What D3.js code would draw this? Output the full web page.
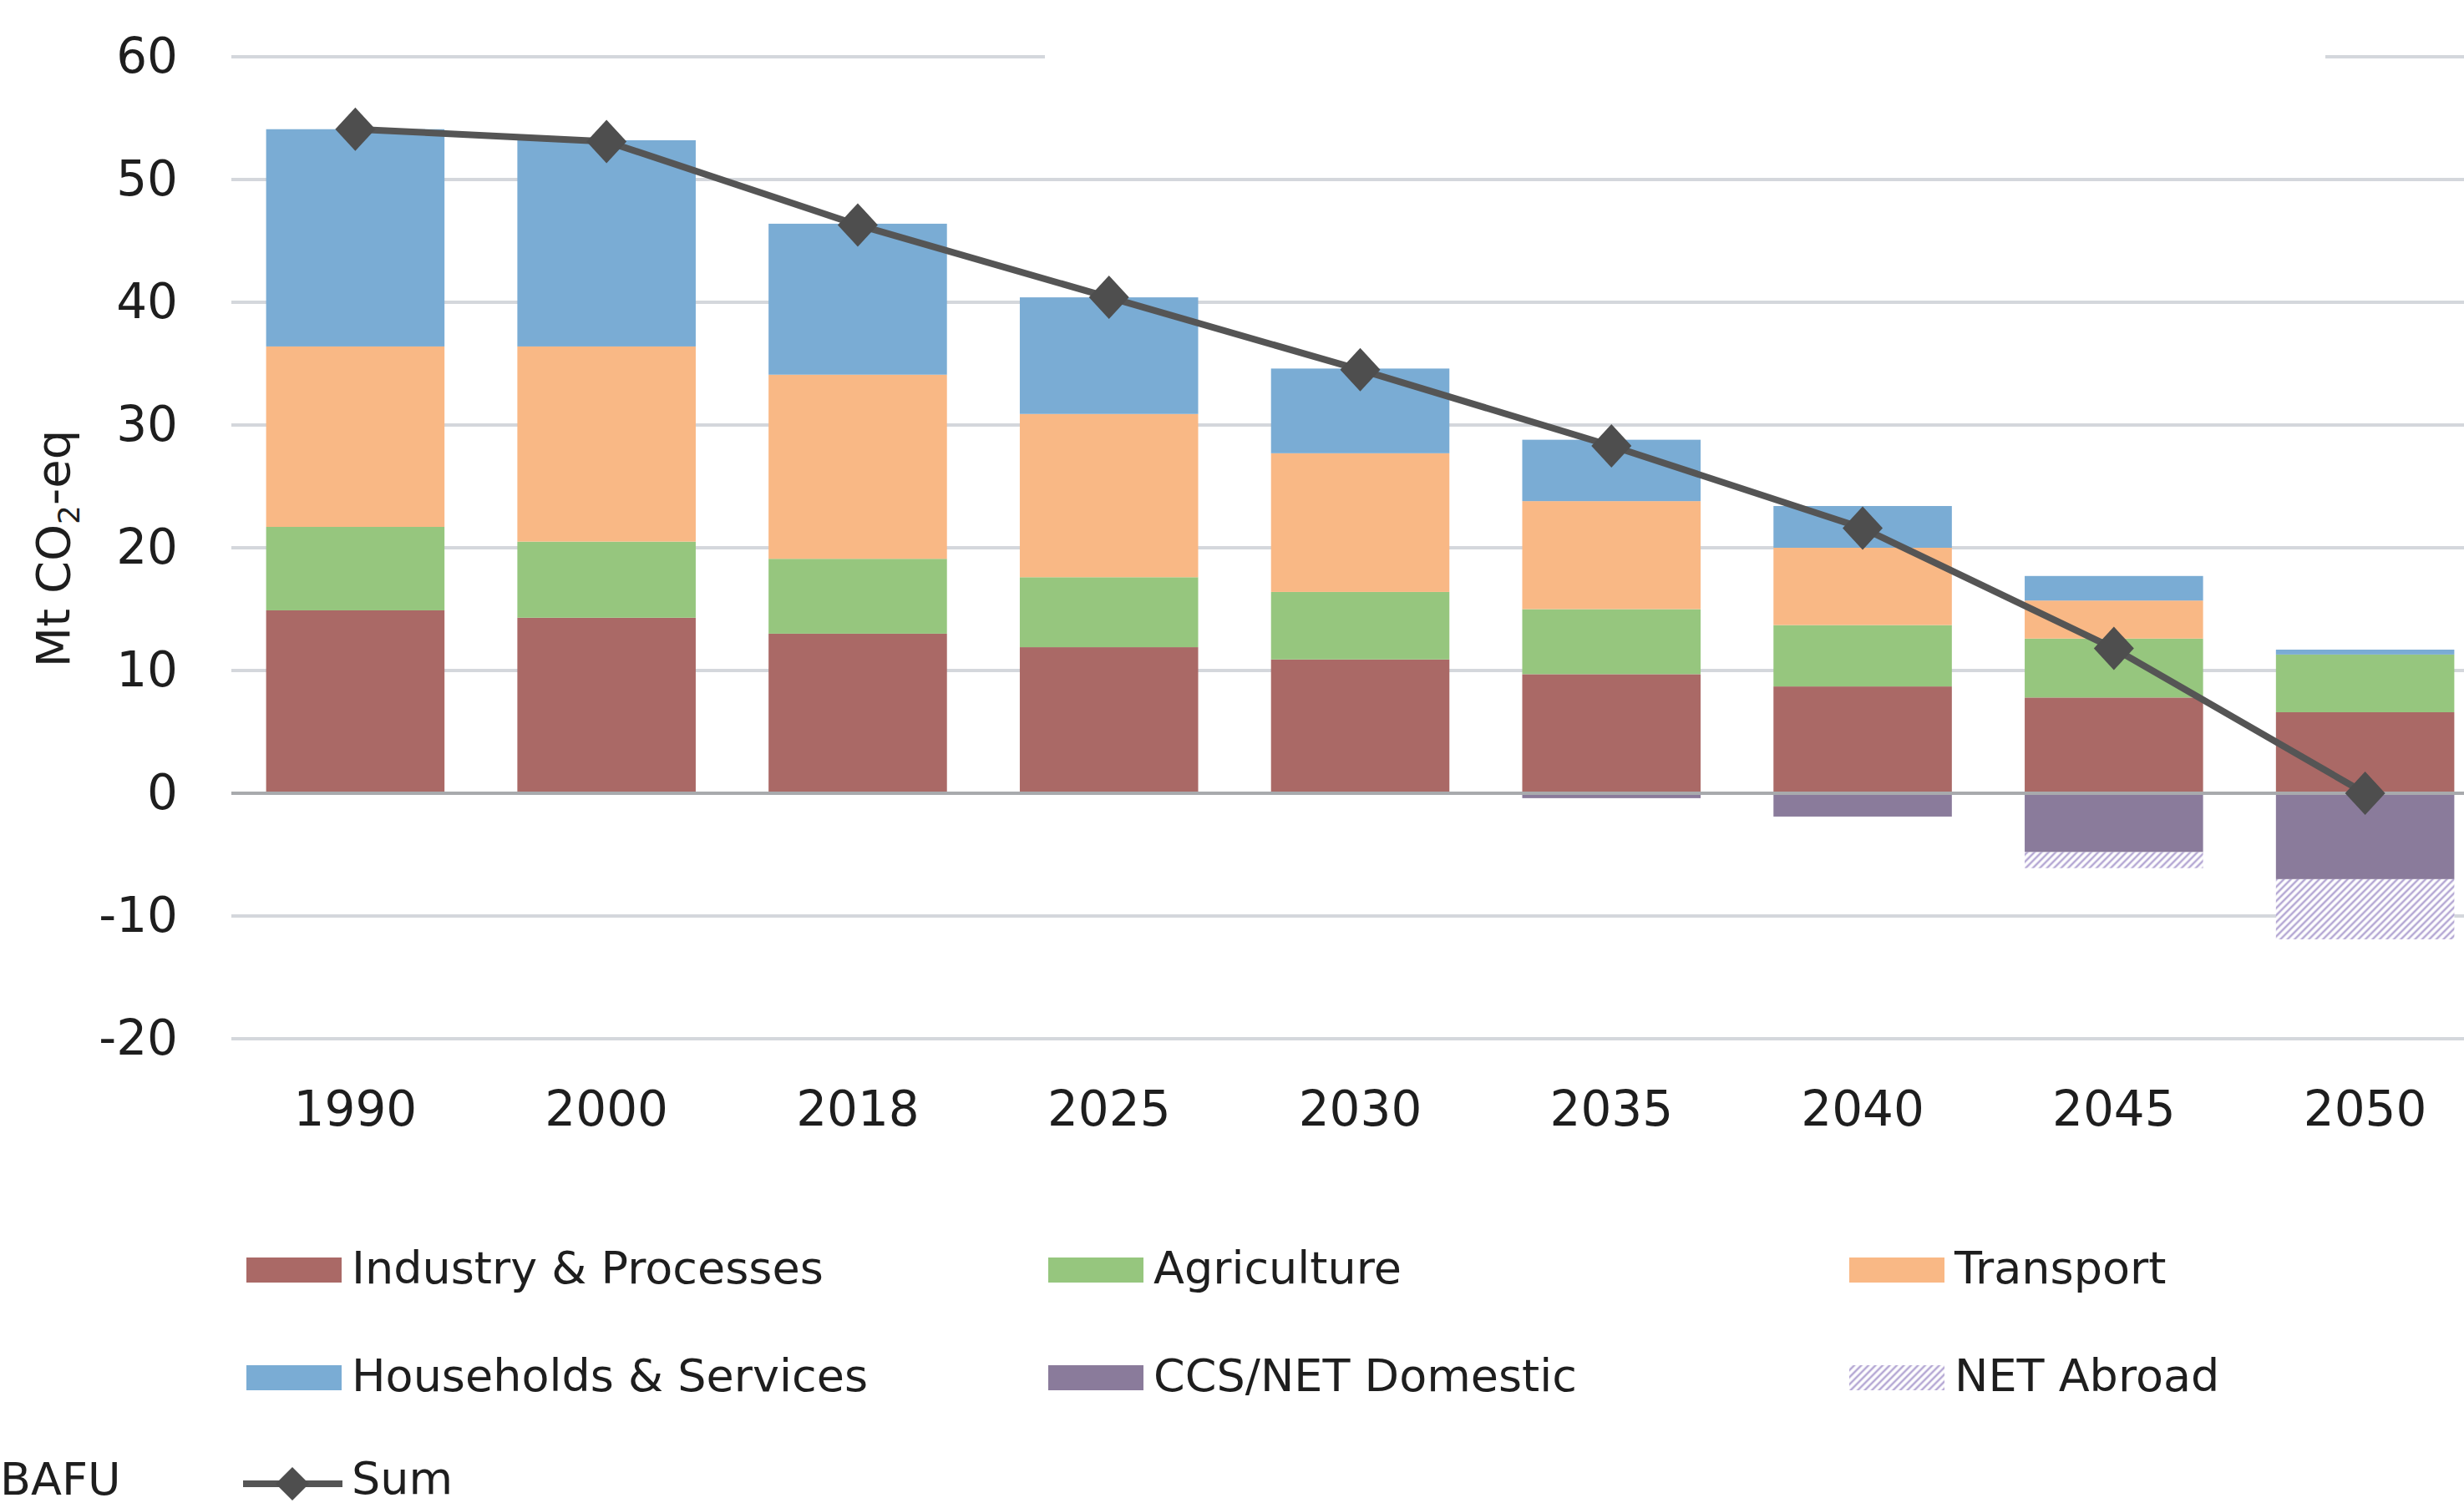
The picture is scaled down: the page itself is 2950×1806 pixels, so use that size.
<!DOCTYPE html>
<html>
<head>
<meta charset="utf-8">
<script src="https://cdn.jsdelivr.net/npm/d3@7"></script>
<style>
  body { margin: 0; background: #fff; }
  svg { display: block; }
  text { font-family: 'DejaVu Sans', Verdana, sans-serif; fill: #1e1e1e; }
</style>
</head>
<body>
<div class="canvas"></div>
<script>
// data (Mt CO2-eq)
const years = ['1990', '2000', '2018', '2025', '2030', '2035', '2040', '2045', '2050'];
const industry    = [14.9, 14.3, 13.0, 11.9, 10.9,  9.7,  8.7,  7.8,  6.6];
const agriculture = [ 6.8,  6.2,  6.1,  5.7,  5.5,  5.3,  5.0,  4.8,  4.7];
const transport   = [14.7, 15.9, 15.0, 13.3, 11.3,  8.8,  6.3,  3.1,  0.0];
const households  = [17.7, 16.8, 12.3,  9.5,  6.9,  5.0,  3.4,  2.0,  0.4];
const ccsDomestic = [ 0,    0,    0,    0,    0,   -0.4, -1.9, -4.8, -7.0];
const netAbroad   = [ 0,    0,    0,    0,    0,    0,    0,   -1.3, -4.9];
const sum         = [54.1, 53.1, 46.3, 40.4, 34.5, 28.3, 21.6, 11.8,  0.0];
const yTicks = [-20, -10, 0, 10, 20, 30, 40, 50, 60];

const keys = ['Industry & Processes', 'Agriculture', 'Transport', 'Households & Services', 'CCS/NET Domestic', 'NET Abroad'];
const seriesValues = [industry, agriculture, transport, households, ccsDomestic, netAbroad];

const width = 2950;
const height = 1806;

const svg = d3.select('.canvas')
  .append('svg')
    .attr('width', width)
    .attr('height', height);

svg.append('rect').attr('width', width).attr('height', height).attr('fill', '#fff');

// hatch for NET Abroad
svg.append('defs')
  .append('pattern')
    .attr('id', 'hatch')
    .attr('patternUnits', 'userSpaceOnUse')
    .attr('width', 6)
    .attr('height', 6)
    .attr('patternTransform', 'rotate(45)')
  .call(p => {
    p.append('rect').attr('width', 6).attr('height', 6).attr('fill', '#fff');
    p.append('line').attr('x1', 2).attr('x2', 2).attr('y1', 0).attr('y2', 6)
      .attr('stroke', '#b5a8d4').attr('stroke-width', 2.5);
  });

const color = d3.scaleOrdinal()
  .domain(keys)
  .range(['#aa6966', '#96c67e', '#f9b885', '#7aacd4', '#8a7b9b', 'url(#hatch)']);

const plotLeft = 277;

const y = d3.scaleLinear()
  .domain([-20, 60])
  .range([1244, 68]);

const x = d3.scaleBand()
  .domain(years)
  .range([275, 2982])
  .paddingInner(0.29)
  .paddingOuter(0.145);

// gridlines (zero line drawn later on top of bars)
svg.append('g')
  .selectAll('line')
  .data(yTicks.filter(d => d !== 0))
  .enter()
  .append('line')
    .attr('x1', plotLeft)
    .attr('x2', width)
    .attr('y1', d => y(d))
    .attr('y2', d => y(d))
    .attr('stroke', '#d4d7dc')
    .attr('stroke-width', 4);

// the top line is cut by a blank box in the original
svg.append('rect')
  .attr('x', 1251)
  .attr('y', y(60) - 8)
  .attr('width', 2784 - 1251)
  .attr('height', 16)
  .attr('fill', '#fff');

// stacked bars
const table = years.map((yr, i) => {
  const row = { year: yr };
  keys.forEach((k, j) => row[k] = seriesValues[j][i]);
  return row;
});

const stacked = d3.stack()
  .keys(keys)
  .offset(d3.stackOffsetDiverging)(table);

svg.append('g')
  .selectAll('g')
  .data(stacked)
  .enter()
  .append('g')
    .attr('fill', d => color(d.key))
  .selectAll('rect')
  .data(d => d)
  .enter()
  .append('rect')
    .attr('x', d => x(d.data.year))
    .attr('width', x.bandwidth())
    .attr('y', d => y(Math.max(d[0], d[1])))
    .attr('height', d => Math.abs(y(d[0]) - y(d[1])));

// zero line
svg.append('line')
  .attr('x1', plotLeft)
  .attr('x2', width)
  .attr('y1', y(0))
  .attr('y2', y(0))
  .attr('stroke', '#a8aaad')
  .attr('stroke-width', 4);

// sum line
const sumData = years.map((yr, i) => ({ year: yr, value: sum[i] }));
const cx = d => x(d.year) + x.bandwidth() / 2;
const diamond = (w, h) => `M0,${-h}L${w},0L0,${h}L${-w},0Z`;

svg.append('path')
  .datum(sumData)
  .attr('fill', 'none')
  .attr('stroke', '#555')
  .attr('stroke-width', 8)
  .attr('d', d3.line().x(cx).y(d => y(d.value)));

svg.append('g')
  .selectAll('path')
  .data(sumData)
  .enter()
  .append('path')
    .attr('transform', d => `translate(${cx(d)}, ${y(d.value)})`)
    .attr('d', diamond(24, 26))
    .attr('fill', '#4e4e4e');

// axes
const yAxis = d3.axisLeft(y)
  .tickValues(yTicks)
  .tickSize(0)
  .tickPadding(64)
  .tickFormat(d => String(d));

const xAxis = d3.axisBottom(x)
  .tickSize(0)
  .tickPadding(63);

const yAxisGroup = svg.append('g')
  .attr('transform', `translate(${plotLeft}, 0)`)
  .call(yAxis);
const xAxisGroup = svg.append('g')
  .attr('transform', `translate(0, ${y(-20)})`)
  .call(xAxis);

[yAxisGroup, xAxisGroup].forEach(g => {
  g.select('.domain').remove();
  g.selectAll('text')
    .attr('font-size', 58)
    .attr('font-family', "'DejaVu Sans', Verdana, sans-serif")
    .attr('fill', '#1e1e1e');
});

// y title
const title = svg.append('text')
  .attr('transform', 'translate(83, 657) rotate(-90)')
  .attr('text-anchor', 'middle')
  .attr('font-size', 56);
title.append('tspan').text('Mt CO');
title.append('tspan').attr('font-size', 36).attr('dy', 12).text('2');
title.append('tspan').attr('dy', -12).text('-eq');

// legend
const legendCols = [295, 1255, 2214];
const legendRows = [1537, 1666, 1789];
const legend = svg.append('g');

keys.forEach((k, i) => {
  const lx = legendCols[i % 3];
  const ly = legendRows[Math.floor(i / 3)];
  legend.append('rect')
    .attr('x', lx)
    .attr('y', ly - 31)
    .attr('width', 114)
    .attr('height', 30)
    .attr('fill', color(k));
  legend.append('text')
    .attr('x', lx + 126)
    .attr('y', ly)
    .attr('font-size', 54)
    .text(k);
});

legend.append('line')
  .attr('x1', 291)
  .attr('x2', 410)
  .attr('y1', legendRows[2] - 12)
  .attr('y2', legendRows[2] - 12)
  .attr('stroke', '#555')
  .attr('stroke-width', 8);
legend.append('path')
  .attr('transform', `translate(350, ${legendRows[2] - 12})`)
  .attr('d', diamond(20, 20))
  .attr('fill', '#4e4e4e');
legend.append('text')
  .attr('x', 421)
  .attr('y', legendRows[2])
  .attr('font-size', 54)
  .text('Sum');

// source
svg.append('text')
  .attr('x', 0)
  .attr('y', 1790)
  .attr('font-family', 'Lato, sans-serif')
  .attr('font-size', 54)
  .text('BAFU');
</script>
</body>
</html>
